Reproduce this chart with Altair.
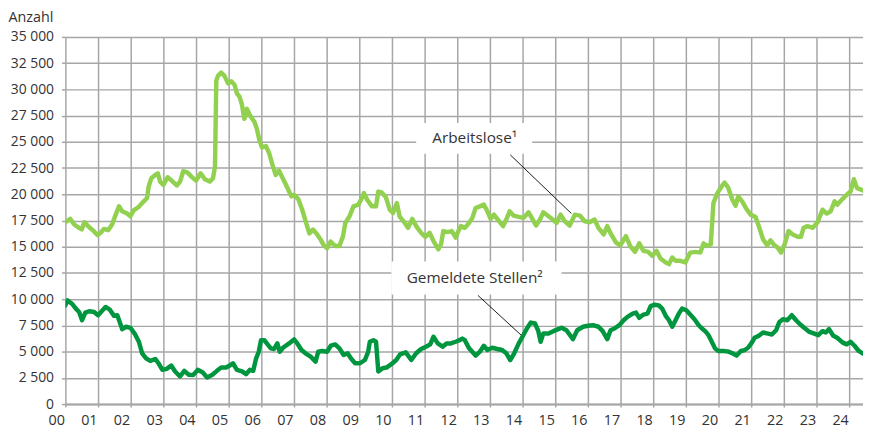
import altair as alt
import pandas as pd

# ---- data (x = years since 2000) ----
years_al = [0.0, 0.15, 0.27, 0.42, 0.5, 0.58, 0.73, 0.85, 0.98, 1.08, 1.18, 1.31, 1.43, 1.54, 1.64, 1.74, 1.89, 1.99,
            2.09, 2.24, 2.37, 2.5, 2.55, 2.63, 2.75, 2.83, 2.9, 3.0, 3.13, 3.25, 3.41, 3.51, 3.61, 3.74, 3.86, 4.0,
            4.14, 4.27, 4.42, 4.52, 4.58, 4.62, 4.67, 4.77, 4.87, 4.98, 5.08, 5.18, 5.25, 5.33, 5.4, 5.48, 5.56,
            5.65, 5.79, 5.86, 5.94, 6.02, 6.14, 6.24, 6.34, 6.44, 6.54, 6.62, 6.73, 6.85, 6.92, 7.0, 7.13, 7.25,
            7.37, 7.47, 7.58, 7.71, 7.81, 7.91, 8.01, 8.12, 8.26, 8.39, 8.5, 8.57, 8.7, 8.82, 8.97, 9.05, 9.14,
            9.24, 9.38, 9.51, 9.58, 9.68, 9.81, 9.93, 10.03, 10.15, 10.23, 10.39, 10.49, 10.62, 10.74, 10.89,
            11.02, 11.15, 11.27, 11.42, 11.5, 11.57, 11.7, 11.83, 11.95, 12.05, 12.11, 12.23, 12.36, 12.46, 12.56,
            12.69, 12.81, 12.92, 13.02, 13.12, 13.24, 13.4, 13.52, 13.6, 13.72, 13.88, 14.03, 14.18, 14.28, 14.41,
            14.53, 14.63, 14.76, 14.92, 15.04, 15.16, 15.29, 15.44, 15.6, 15.75, 15.9, 16.05, 16.2, 16.32, 16.48,
            16.59, 16.71, 16.86, 16.99, 17.16, 17.29, 17.44, 17.57, 17.7, 17.84, 17.97, 18.1, 18.22, 18.38, 18.48,
            18.58, 18.68, 18.83, 18.98, 19.13, 19.29, 19.44, 19.54, 19.64, 19.76, 19.84, 19.96, 20.09, 20.18,
            20.29, 20.42, 20.52, 20.6, 20.72, 20.85, 20.98, 21.13, 21.23, 21.36, 21.49, 21.59, 21.71, 21.81,
            21.91, 22.02, 22.14, 22.27, 22.42, 22.52, 22.6, 22.72, 22.88, 23.03, 23.18, 23.31, 23.43, 23.55,
            23.63, 23.79, 23.92, 24.04, 24.14, 24.24, 24.42]
vals_al = [17340, 17650, 17120, 16800, 16650, 17340, 16860, 16550, 16110, 16330, 16700, 16580, 17120, 18060, 18850,
           18380, 18160, 17900, 18470, 18790, 19230, 19640, 20740, 21530, 21840, 22000, 21210, 20900, 21620, 21310,
           20840, 21210, 22220, 22060, 21680, 21300, 22000, 21430, 21210, 21530, 22630, 30820, 31290, 31600, 31290,
           30570, 30760, 30440, 29620, 29310, 28620, 27200, 28150, 27520, 26890, 26260, 25160, 24460, 24590, 23890,
           22800, 21840, 22250, 21750, 21050, 20260, 19800, 19950, 19540, 18530, 17270, 16270, 16640, 16170, 15700,
           15130, 14860, 15500, 15070, 15070, 16010, 17270, 17900, 18850, 19010, 19480, 20110, 19480, 18850, 18850,
           20260, 20170, 19730, 18530, 18220, 19160, 17900, 17270, 16800, 17650, 16960, 16330, 15950, 16330, 15540,
           14760, 15230, 16490, 16390, 16490, 15860, 16640, 16960, 16800, 17270, 17750, 18690, 18850, 19010, 18380,
           17650, 18060, 17590, 16960, 17750, 18380, 17970, 17840, 17750, 18280, 17750, 17020, 17590, 18280, 17970,
           17590, 17270, 18060, 17430, 17020, 18060, 17970, 17430, 17340, 17590, 16800, 16170, 16960, 16170, 15390,
           15130, 16010, 15070, 14510, 15320, 14600, 14510, 14130, 14600, 13880, 13500, 13340, 13970, 13660, 13660,
           13500, 14440, 14510, 14440, 15320, 15070, 15230, 19160, 20110, 20740, 21120, 20650, 19480, 18910, 19790,
           19320, 18600, 18060, 17840, 16960, 15700, 15130, 15610, 15130, 14910, 14440, 15230, 16490, 16170, 15950,
           15950, 16800, 16960, 16800, 17340, 18530, 18160, 18380, 19320, 19010, 19540, 19950, 20260, 21430, 20580,
           20360]

years_gs = [0.0, 0.07, 0.2, 0.32, 0.42, 0.51, 0.61, 0.73, 0.88, 1.0, 1.11, 1.23, 1.35, 1.49, 1.59, 1.74, 1.86, 1.99,
            2.12, 2.25, 2.35, 2.47, 2.6, 2.75, 2.85, 2.97, 3.1, 3.24, 3.36, 3.51, 3.64, 3.78, 3.91, 4.05, 4.2, 4.34,
            4.5, 4.64, 4.77, 4.92, 5.03, 5.13, 5.25, 5.41, 5.53, 5.65, 5.75, 5.84, 5.92, 5.99, 6.09, 6.19, 6.29,
            6.39, 6.49, 6.56, 6.66, 6.85, 7.0, 7.1, 7.23, 7.35, 7.51, 7.66, 7.74, 7.86, 8.01, 8.13, 8.26, 8.39,
            8.52, 8.64, 8.74, 8.87, 9.02, 9.17, 9.27, 9.32, 9.43, 9.51, 9.58, 9.71, 9.83, 9.98, 10.13, 10.25,
            10.42, 10.59, 10.74, 10.89, 11.04, 11.17, 11.27, 11.4, 11.55, 11.67, 11.8, 11.95, 12.07, 12.15, 12.23,
            12.36, 12.56, 12.69, 12.81, 12.92, 13.07, 13.22, 13.37, 13.5, 13.62, 13.74, 13.88, 14.01, 14.13, 14.25,
            14.38, 14.48, 14.55, 14.63, 14.79, 14.94, 15.09, 15.19, 15.34, 15.54, 15.67, 15.85, 16.0, 16.15, 16.32,
            16.45, 16.59, 16.69, 16.81, 16.96, 17.09, 17.21, 17.37, 17.47, 17.57, 17.7, 17.82, 17.92, 18.04, 18.17,
            18.27, 18.38, 18.48, 18.58, 18.68, 18.78, 18.88, 19.01, 19.13, 19.26, 19.39, 19.49, 19.59, 19.69,
            19.79, 19.89, 19.99, 20.15, 20.3, 20.42, 20.55, 20.68, 20.8, 20.9, 21.0, 21.1, 21.23, 21.36, 21.51,
            21.63, 21.76, 21.86, 21.97, 22.1, 22.24, 22.37, 22.5, 22.62, 22.78, 22.93, 23.05, 23.18, 23.28, 23.38,
            23.51, 23.63, 23.79, 23.92, 24.04, 24.16, 24.29, 24.42]
vals_gs = [9410, 9880, 9570, 9100, 8780, 7990, 8720, 8850, 8780, 8470, 8850, 9250, 9030, 8410, 8470, 7140, 7370, 7270,
           6720, 5940, 4840, 4360, 4110, 4300, 3890, 3260, 3360, 3670, 3110, 2630, 3170, 2790, 2760, 3260, 3040, 2540,
           2790, 3170, 3480, 3480, 3670, 3890, 3260, 3110, 2850, 3260, 3170, 4360, 4990, 6090, 6090, 5690, 5310, 5250,
           5780, 4990, 5370, 5780, 6160, 5780, 5150, 4840, 4520, 4050, 4990, 5060, 4990, 5580, 5690, 5310, 4680, 4840,
           4360, 3890, 3890, 4200, 4990, 5940, 6090, 5940, 3110, 3420, 3480, 3800, 4200, 4740, 4930, 4200, 4840, 5250,
           5470, 5690, 6420, 5780, 5470, 5780, 5780, 5940, 6090, 6250, 6090, 5310, 4620, 4990, 5560, 5150, 5370, 5250,
           5150, 4840, 4200, 4840, 5780, 6510, 7200, 7770, 7680, 6950, 5940, 6720, 6720, 6950, 7140, 7270, 7040, 6190,
           7040, 7370, 7460, 7520, 7370, 6950, 6190, 7040, 7200, 7520, 7990, 8310, 8620, 8720, 8220, 8530, 8620, 9340,
           9470, 9410, 9100, 8410, 7990, 7370, 7990, 8620, 9100, 8940, 8530, 8090, 7520, 7200, 6950, 6570, 5940, 5310,
           5060, 5060, 5000, 4840, 4620, 5060, 5150, 5370, 5780, 6320, 6510, 6820, 6720, 6630, 7040, 7830, 8090, 7990,
           8470, 7990, 7580, 7270, 6880, 6720, 6570, 6950, 6820, 7140, 6510, 6320, 5880, 5690, 5940, 5560, 5060, 4800]

series_names = ["Arbeitslose", "Gemeldete Stellen"]
series_colors = ["#92D050", "#00963F"]

x_ticks = list(range(0, 25))
y_ticks = list(range(0, 35001, 2500))

ann_labels = ["Arbeitslose\u00b9", "Gemeldete Stellen\u00b2"]
ann_x = [12.53, 12.53]
ann_y = [25370, 12030]
box_x1 = [10.74, 9.98]
box_x2 = [14.29, 15.19]
box_y1 = [23860, 10450]
box_y2 = [26790, 13600]
lead_x1 = [13.62, 12.63]
lead_y1 = [23760, 10360]
lead_x2 = [15.49, 13.95]
lead_y2 = [18170, 6580]

# ---- tables ----
df = pd.concat([
    pd.DataFrame({"jahr": years_al, "wert": vals_al, "serie": series_names[0]}),
    pd.DataFrame({"jahr": years_gs, "wert": vals_gs, "serie": series_names[1]}),
], ignore_index=True)

ann = pd.DataFrame({
    "label": ann_labels, "ax": ann_x, "ay": ann_y,
    "bx1": box_x1, "bx2": box_x2, "by1": box_y1, "by2": box_y2,
    "lx1": lead_x1, "ly1": lead_y1, "lx2": lead_x2, "ly2": lead_y2,
})

FONT = "Open Sans"
TXT = "#333333"
GRID = "#a6a6a6"

x_scale = alt.Scale(domain=[0, 24.42], nice=False, zero=False)
y_scale = alt.Scale(domain=[0, 35000], nice=False)

x_axis = alt.Axis(values=x_ticks, title=None, grid=True, domain=True, domainColor=GRID, domainWidth=2,
                  tickSize=3, tickColor=GRID, tickWidth=1.5, labelPadding=7, labelAlign="right",
                  labelOffset=-1, labelOverlap=False, labelFlush=False, labelFontSize=14.5,
                  labelExpr="datum.value < 10 ? '0' + datum.value : '' + datum.value")
y_axis = alt.Axis(values=y_ticks, title="Anzahl", titleAngle=0, titleAlign="left", titleBaseline="top",
                  titleX=-58, titleY=-27, titleFont=FONT, titleFontSize=14.5, titleFontWeight="normal",
                  titleColor=TXT, grid=True, domain=False, tickSize=4, tickColor=GRID, tickWidth=1.5,
                  labelPadding=8, labelOverlap=False, labelFlush=False, labelFontSize=14,
                  labelExpr="replace(format(datum.value, ','), ',', ' ')")

lines = alt.Chart(df).mark_line(strokeWidth=4.5, strokeJoin="round", strokeCap="round", clip=True).encode(
    x=alt.X("jahr:Q", scale=x_scale, axis=x_axis),
    y=alt.Y("wert:Q", scale=y_scale, axis=y_axis),
    color=alt.Color("serie:N", scale=alt.Scale(domain=series_names, range=series_colors), legend=None),
)

boxes = alt.Chart(ann).mark_rect(fill="white").encode(
    x=alt.X("bx1:Q", scale=x_scale, axis=x_axis), x2="bx2:Q",
    y=alt.Y("by1:Q", scale=y_scale, axis=y_axis), y2="by2:Q",
)

texts = alt.Chart(ann).mark_text(font=FONT, fontSize=15.5, color=TXT, align="center", baseline="middle").encode(
    x=alt.X("ax:Q", scale=x_scale, axis=x_axis),
    y=alt.Y("ay:Q", scale=y_scale, axis=y_axis),
    text="label:N",
)

leaders = alt.Chart(ann).mark_rule(color="black", strokeWidth=0.9).encode(
    x=alt.X("lx1:Q", scale=x_scale, axis=x_axis), x2="lx2:Q",
    y=alt.Y("ly1:Q", scale=y_scale, axis=y_axis), y2="ly2:Q",
)

chart = alt.layer(lines, boxes, texts, leaders).properties(
    width=806, height=371,
    autosize=alt.AutoSizeParams(type="none"),
    padding={"left": 58, "top": 27, "right": 0, "bottom": 26},
).configure_axis(
    gridColor=GRID, gridWidth=1.5, gridOpacity=1,
    labelFont=FONT, labelColor=TXT,
).configure_view(stroke=None)

chart.save("out.html", embed_options={"renderer": "svg", "actions": False})
